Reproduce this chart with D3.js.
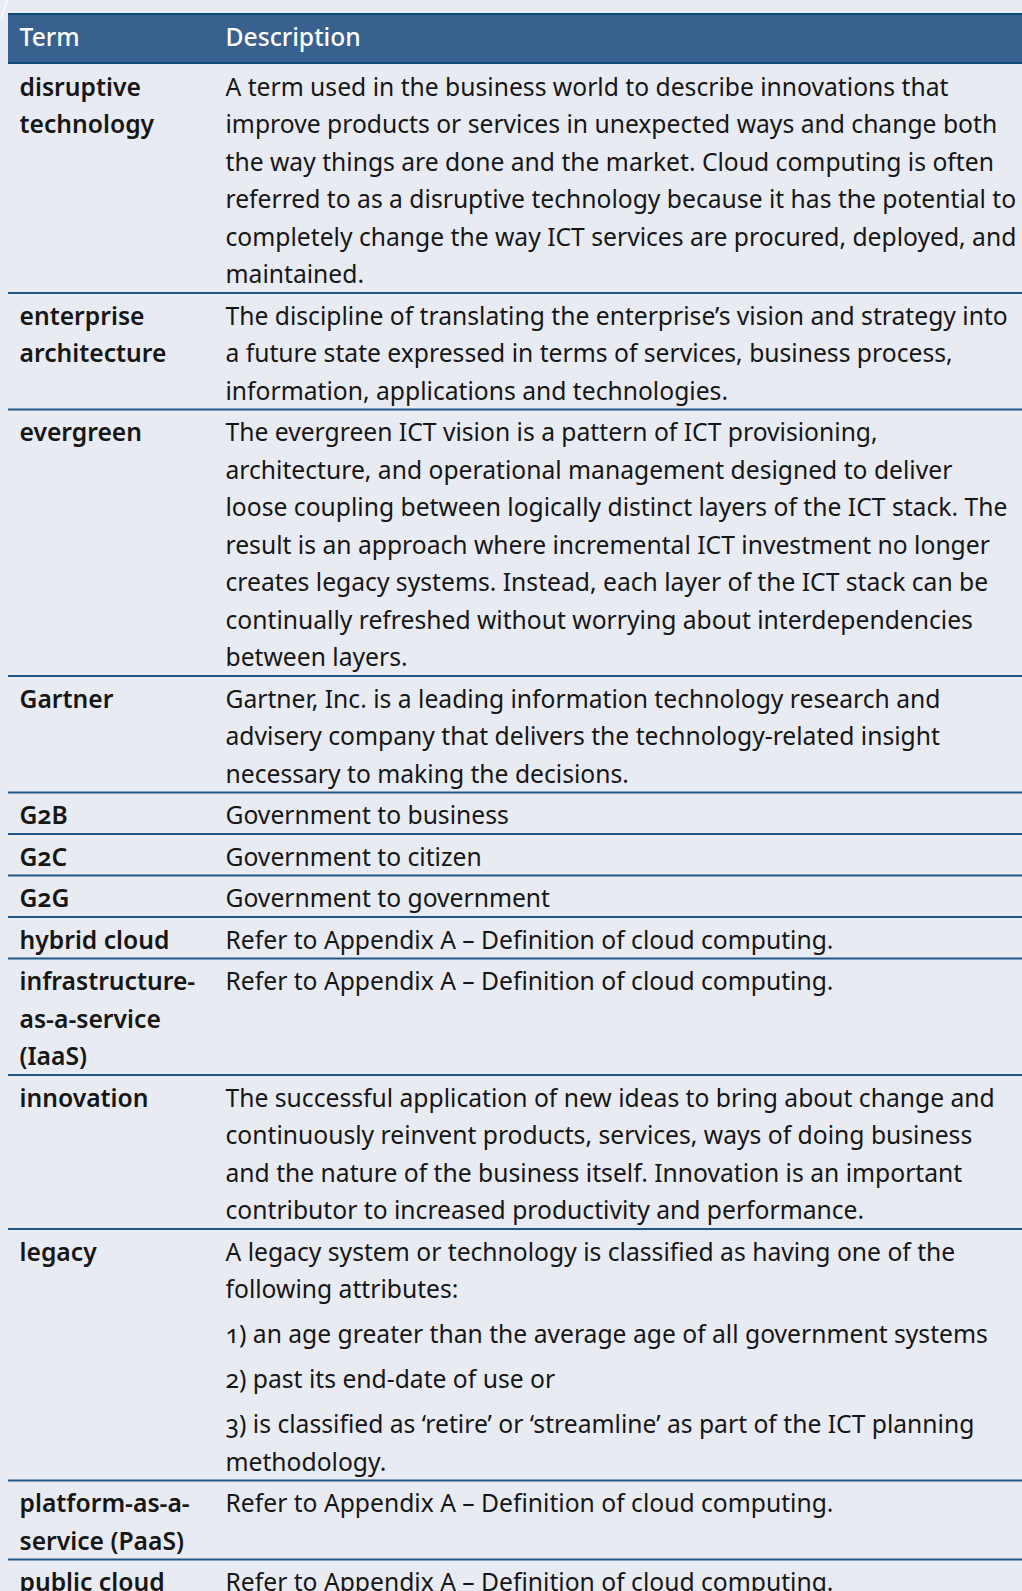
<!DOCTYPE html>
<html>
<head>
<meta charset="utf-8">
<script src="https://cdn.jsdelivr.net/npm/d3@7"></script>
<style>
  html, body { margin: 0; padding: 0; background: #e8ebf2; }
  svg { display: block; }
  text { font-family: "Noto Sans", "Open Sans", sans-serif; font-variant-numeric: oldstyle-nums; }
</style>
</head>
<body>
<svg id="chart" width="1022" height="1591"></svg>
<script>
// ---- data ----
const headers = ["Term", "Description"];

const terms = [
  ["disruptive", "technology"],
  ["enterprise", "architecture"],
  ["evergreen"],
  ["Gartner"],
  ["G2B"],
  ["G2C"],
  ["G2G"],
  ["hybrid cloud"],
  ["infrastructure-", "as-a-service", "(IaaS)"],
  ["innovation"],
  ["legacy"],
  ["platform-as-a-", "service (PaaS)"],
  ["public cloud"]
];

const appendixRef = "Refer to Appendix A – Definition of cloud computing.";

// each description: list of paragraphs, each paragraph: list of lines
const descriptions = [
  [["A term used in the business world to describe innovations that",
    "improve products or services in unexpected ways and change both",
    "the way things are done and the market. Cloud computing is often",
    "referred to as a disruptive technology because it has the potential to",
    "completely change the way ICT services are procured, deployed, and",
    "maintained."]],
  [["The discipline of translating the enterprise’s vision and strategy into",
    "a future state expressed in terms of services, business process,",
    "information, applications and technologies."]],
  [["The evergreen ICT vision is a pattern of ICT provisioning,",
    "architecture, and operational management designed to deliver",
    "loose coupling between logically distinct layers of the ICT stack. The",
    "result is an approach where incremental ICT investment no longer",
    "creates legacy systems. Instead, each layer of the ICT stack can be",
    "continually refreshed without worrying about interdependencies",
    "between layers."]],
  [["Gartner, Inc. is a leading information technology research and",
    "advisery company that delivers the technology-related insight",
    "necessary to making the decisions."]],
  [["Government to business"]],
  [["Government to citizen"]],
  [["Government to government"]],
  [[appendixRef]],
  [[appendixRef]],
  [["The successful application of new ideas to bring about change and",
    "continuously reinvent products, services, ways of doing business",
    "and the nature of the business itself. Innovation is an important",
    "contributor to increased productivity and performance."]],
  [["A legacy system or technology is classified as having one of the",
    "following attributes:"],
   ["1) an age greater than the average age of all government systems"],
   ["2) past its end-date of use or"],
   ["3) is classified as ‘retire’ or ‘streamline’ as part of the ICT planning",
    "methodology."]],
  [[appendixRef]],
  [[appendixRef]]
];

// ---- layout / style ----
const W = 1022;
const tableX = 8, splitX = 214;
const headerTop = 13, headerBottom = 64;
const lineH = 37.5, paraGap = 7.5, pad = 4, baseOff = 31.5;
const termX = 19.5, descX = 225.5;
const headerFill = "#386190", headerBorder = "#0f4a78", ruleColor = "#1f5687";

const svg = d3.select("#chart");

// fit font size: widest line spans ~791px in the reference
const probe = svg.append("text").attr("font-size", 24)
  .text("referred to as a disruptive technology because it has the potential to");
const fs = 24 * 791 / probe.node().getComputedTextLength();
probe.remove();

// rows with cumulative positions
const rows = terms.map((t, i) => {
  const paras = descriptions[i];
  const descLines = d3.sum(paras, p => p.length);
  const n = Math.max(t.length, descLines);
  const h = n * lineH + (paras.length - 1) * paraGap + pad;
  return { term: t, paras, h };
});
let acc = headerBottom;
rows.forEach(r => { r.y0 = acc; acc += r.h; r.y1 = acc; });

// small diagonal stroke at top-left
svg.append("line").attr("x1", 7.5).attr("y1", 0).attr("x2", 1).attr("y2", 18)
  .attr("stroke", "#ffffff").attr("stroke-width", 1.2).attr("opacity", 0.9);

// header
svg.append("rect").attr("x", tableX).attr("y", headerTop)
  .attr("width", W - tableX).attr("height", headerBottom - headerTop)
  .attr("fill", headerFill);
[headerTop + 1, headerBottom - 1].forEach(y =>
  svg.append("line").attr("x1", tableX).attr("x2", W).attr("y1", y).attr("y2", y)
    .attr("stroke", headerBorder).attr("stroke-width", 2));
svg.selectAll("text.hdr").data(headers).join("text")
  .attr("class", "hdr")
  .attr("x", (d, i) => i === 0 ? termX : descX)
  .attr("y", 46)
  .attr("font-size", fs)
  .attr("font-weight", 500)
  .attr("fill", "#ffffff")
  .text(d => d);

// rows
const g = svg.selectAll("g.row").data(rows).join("g").attr("class", "row");

g.append("line")
  .attr("x1", tableX).attr("x2", W)
  .attr("y1", d => d.y1).attr("y2", d => d.y1)
  .attr("stroke", ruleColor).attr("stroke-width", 2);

g.each(function (d) {
  const sel = d3.select(this);
  sel.selectAll("text.term").data(d.term).join("text")
    .attr("class", "term")
    .attr("x", termX)
    .attr("y", (t, j) => d.y0 + baseOff + j * lineH)
    .attr("font-size", fs)
    .attr("font-weight", 600)
    .attr("fill", "#161616")
    .text(t => t);

  const lines = [];
  let yy = d.y0 + baseOff;
  d.paras.forEach((p, pi) => {
    if (pi > 0) yy += paraGap;
    p.forEach(l => { lines.push({ text: l, y: yy }); yy += lineH; });
  });
  sel.selectAll("text.desc").data(lines).join("text")
    .attr("class", "desc")
    .attr("x", descX)
    .attr("y", l => l.y)
    .attr("font-size", fs)
    .attr("fill", "#161616")
    .text(l => l.text);
});
</script>
</body>
</html>
